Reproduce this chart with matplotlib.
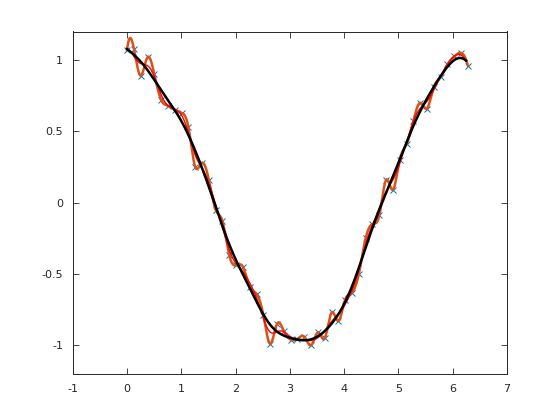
import numpy as np
import matplotlib
matplotlib.use('Agg')
import matplotlib.pyplot as plt

# noisy samples of cos(x), 51 points over [0, 2*pi]
x_pts = np.linspace(0, 2 * np.pi, 51)
y_pts = [1.07, 1.08, 0.89, 1.02, 0.90, 0.72, 0.68, 0.65, 0.63, 0.53,
         0.25, 0.28, 0.16, -0.05, -0.13, -0.37, -0.44, -0.45, -0.59, -0.64,
         -0.79, -0.99, -0.85, -0.90, -0.96, -0.955, -0.94, -1.00, -0.91, -0.95,
         -0.77, -0.83, -0.68, -0.63, -0.50, -0.25, -0.15, -0.09, 0.16, 0.09,
         0.30, 0.41, 0.575, 0.70, 0.66, 0.81, 0.88, 0.97, 1.025, 1.05,
         0.96]

xticks = [-1, 0, 1, 2, 3, 4, 5, 6, 7]
yticks = [-1, -0.5, 0, 0.5, 1]
ytick_labels = ['-1', '-0.5', '0', '0.5', '1']


def spline_notaknot(x, y, xx):
    # cubic spline, not-a-knot ends (like octave spline)
    x = np.asarray(x)
    y = np.asarray(y, dtype=float)
    n = len(x)
    h = np.diff(x)
    A = np.zeros((n, n))
    b = np.zeros(n)
    A[0, 0], A[0, 1], A[0, 2] = h[1], -(h[0] + h[1]), h[0]
    A[-1, -3], A[-1, -2], A[-1, -1] = h[-1], -(h[-2] + h[-1]), h[-2]
    for i in range(1, n - 1):
        A[i, i - 1] = h[i - 1]
        A[i, i] = 2 * (h[i - 1] + h[i])
        A[i, i + 1] = h[i]
        b[i] = 6 * ((y[i + 1] - y[i]) / h[i] - (y[i] - y[i - 1]) / h[i - 1])
    M = np.linalg.solve(A, b)
    k = np.clip(np.searchsorted(x, xx) - 1, 0, n - 2)
    hk = h[k]
    t1 = x[k + 1] - xx
    t0 = xx - x[k]
    return (M[k] * t1 ** 3 / (6 * hk) + M[k + 1] * t0 ** 3 / (6 * hk)
            + (y[k] / hk - M[k] * hk / 6) * t1
            + (y[k + 1] / hk - M[k + 1] * hk / 6) * t0)


def local_fit(x, y, xx, sigma, deg=2):
    # gaussian weighted local polynomial regression
    x = np.asarray(x)
    y = np.asarray(y, dtype=float)
    out = np.empty(len(xx))
    for j, xq in enumerate(xx):
        w = np.exp(-0.5 * ((x - xq) / sigma) ** 2)
        p = np.polyfit(x - xq, y, deg, w=np.sqrt(w))
        out[j] = p[-1]
    return out


xx = np.linspace(0, 2 * np.pi, 800)
yy_spline = spline_notaknot(x_pts, y_pts, xx)
xx_fit = np.linspace(0, 6.25, 300)
yy_red = local_fit(x_pts, y_pts, xx_fit, 0.15)
yy_fit = local_fit(x_pts, y_pts, xx_fit, 0.3)

fig = plt.figure(figsize=(5.6, 4.2), dpi=100)
ax = fig.add_axes([0.13, 0.11, 0.775, 0.815])

ax.plot(x_pts, y_pts, 'x', color='#0072BD', markersize=4.5, markeredgewidth=0.7)
ax.plot(xx, yy_spline, color='#D95319', linewidth=1.8)
ax.plot(xx_fit, yy_red, color='#FF0000', linewidth=1)
ax.plot(xx_fit, yy_fit, color='black', linewidth=1.8)

ax.set_xlim(-1, 7)
ax.set_ylim(-1.2, 1.2)
ax.set_xticks(xticks)
ax.set_xticklabels([str(t) for t in xticks])
ax.set_yticks(yticks)
ax.set_yticklabels(ytick_labels)
ax.tick_params(direction='in', top=True, right=True, length=4, width=0.6,
               labelsize=8, colors='#262626', pad=7)
for s in ax.spines.values():
    s.set_color('#262626')
    s.set_linewidth(0.7)

fig.savefig('out.png', dpi=100)
